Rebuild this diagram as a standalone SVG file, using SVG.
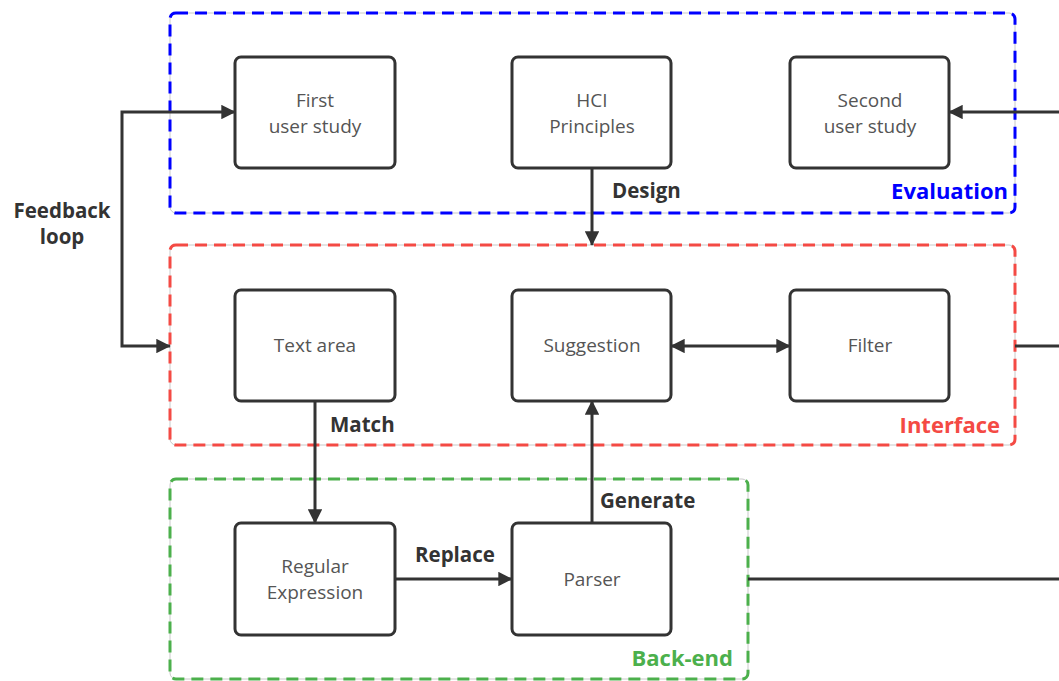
<svg xmlns="http://www.w3.org/2000/svg" width="1059" height="681" viewBox="0 0 1059 681">
  <style>
    .grp-base { fill: none; stroke: #c8c8c8; stroke-width: 1; }
    .grp { fill: none; stroke-width: 3; stroke-dasharray: 12 7; }
    .node rect { fill: #ffffff; stroke: #333333; stroke-width: 3; }
    .node text { font-family: "Open Sans", "Noto Sans", sans-serif; font-size: 19px; fill: #555555; text-anchor: middle; }
    .edge { fill: none; stroke: #333333; stroke-width: 3; }
    .lbl { font-family: "Open Sans", "Noto Sans", sans-serif; font-size: 20.5px; font-weight: bold; fill: #333333; }
    .glbl { font-family: "Open Sans", "Noto Sans", sans-serif; font-size: 22px; font-weight: bold; text-anchor: end; }
  </style>
  <defs>
    <marker id="arrow" viewBox="0 0 10 10" refX="9.5" refY="5" markerWidth="5.4" markerHeight="4.8" markerUnits="strokeWidth" orient="auto-start-reverse">
      <path d="M0,0 L10,5 L0,10 Z" fill="#333333"/>
    </marker>
  </defs>

  <rect width="1059" height="681" fill="#ffffff"/>

  <!-- group frames -->
  <g id="group-evaluation">
    <rect class="grp-base" x="170" y="13" width="845" height="200" rx="6"/>
    <rect class="grp" x="170" y="13" width="845" height="200" rx="6" stroke="#0000ff"/>
    <text class="glbl" x="1008" y="199" fill="#0000ff">Evaluation</text>
  </g>
  <g id="group-interface">
    <rect class="grp-base" x="170" y="245" width="845" height="200" rx="6"/>
    <rect class="grp" x="170" y="245" width="845" height="200" rx="6" stroke="#f44a44"/>
    <text class="glbl" x="1000" y="433" fill="#f44a44">Interface</text>
  </g>
  <g id="group-backend">
    <rect class="grp-base" x="170" y="479" width="578" height="200" rx="6"/>
    <rect class="grp" x="170" y="479" width="578" height="200" rx="6" stroke="#4cb04c"/>
    <text class="glbl" x="733" y="666" fill="#4cb04c">Back-end</text>
  </g>

  <!-- connectors -->
  <g id="connectors">
    <path class="edge" d="M170,346 H122 V112 H235" marker-start="url(#arrow)" marker-end="url(#arrow)"/>
    <path class="edge" d="M1062,112 H949" marker-end="url(#arrow)"/>
    <path class="edge" d="M1015,346 H1062"/>
    <path class="edge" d="M748,579 H1062"/>
    <path class="edge" d="M592,168 V245" marker-end="url(#arrow)"/>
    <path class="edge" d="M671,346 H790" marker-start="url(#arrow)" marker-end="url(#arrow)"/>
    <path class="edge" d="M315,401 V523" marker-end="url(#arrow)"/>
    <path class="edge" d="M395,579 H512" marker-end="url(#arrow)"/>
    <path class="edge" d="M592,523 V401" marker-end="url(#arrow)"/>
    <text class="lbl" x="62" y="218" text-anchor="middle">Feedback</text>
    <text class="lbl" x="62" y="244" text-anchor="middle">loop</text>
    <text class="lbl" x="612" y="198">Design</text>
    <text class="lbl" x="330" y="432">Match</text>
    <text class="lbl" x="600" y="508">Generate</text>
    <text class="lbl" x="415" y="562">Replace</text>
  </g>

  <!-- nodes -->
  <g id="first-user-study" class="node">
    <rect x="235" y="57" width="160" height="111" rx="6"/>
    <text x="315" y="107">First</text>
    <text x="315" y="133">user study</text>
  </g>
  <g id="hci-principles" class="node">
    <rect x="512" y="57" width="159" height="111" rx="6"/>
    <text x="592" y="107">HCI</text>
    <text x="592" y="133">Principles</text>
  </g>
  <g id="second-user-study" class="node">
    <rect x="790" y="57" width="159" height="111" rx="6"/>
    <text x="870" y="107">Second</text>
    <text x="870" y="133">user study</text>
  </g>
  <g id="text-area" class="node">
    <rect x="235" y="290" width="160" height="111" rx="6"/>
    <text x="315" y="352">Text area</text>
  </g>
  <g id="suggestion" class="node">
    <rect x="512" y="290" width="159" height="111" rx="6"/>
    <text x="592" y="352">Suggestion</text>
  </g>
  <g id="filter" class="node">
    <rect x="790" y="290" width="159" height="111" rx="6"/>
    <text x="870" y="352">Filter</text>
  </g>
  <g id="regular-expression" class="node">
    <rect x="235" y="523" width="160" height="112" rx="6"/>
    <text x="315" y="573">Regular</text>
    <text x="315" y="599">Expression</text>
  </g>
  <g id="parser" class="node">
    <rect x="512" y="523" width="159" height="112" rx="6"/>
    <text x="592" y="586">Parser</text>
  </g>
</svg>
